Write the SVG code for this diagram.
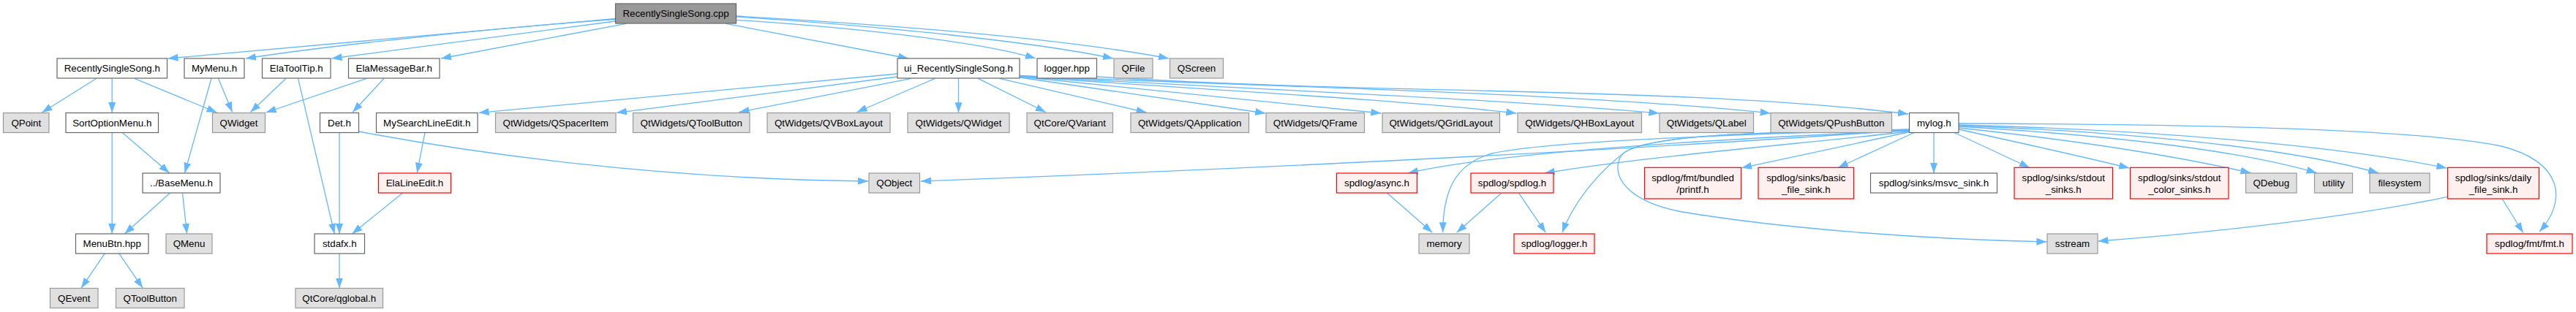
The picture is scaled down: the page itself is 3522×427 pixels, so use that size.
<svg xmlns="http://www.w3.org/2000/svg" width="3522" height="427" viewBox="0 0 3522 427">
<style>
.e{fill:none;stroke:#63b8ff;stroke-width:1.3;marker-end:url(#a)}
.nw rect{fill:#ffffff;stroke:#666666;stroke-width:1.2}
.ng rect{fill:#e0e0e0;stroke:#999999;stroke-width:1.2}
.nr rect{fill:#fff0f0;stroke:#ff0000;stroke-width:1.2}
.nroot rect{fill:#999999;stroke:#666666;stroke-width:1.2}
text{font-family:"Liberation Sans",Arial,sans-serif;font-size:13.33px;text-anchor:middle;fill:#000000}
</style>
<defs>
<marker id="a" markerUnits="userSpaceOnUse" markerWidth="16" markerHeight="12" refX="14" refY="5" orient="auto"><path d="M0,0 L14,5 L0,10 z" fill="#63b8ff"/></marker>
</defs>
<rect width="3522" height="427" fill="#ffffff"/>
<g id="edges">
<path class="e" d="M841.5,25.5 L229.5,80"/>
<path class="e" d="M841.5,26.5 C700,36 450,62 336,80"/>
<path class="e" d="M841.5,29 L453.5,80"/>
<path class="e" d="M856,32.3 L603,80"/>
<path class="e" d="M992.5,32.3 L1242,80"/>
<path class="e" d="M1006.5,27.3 C1200,40 1350,60 1416,80"/>
<path class="e" d="M1006.5,23 C1200,35 1420,58 1522,80"/>
<path class="e" d="M1006.5,22 C1200,33 1450,52 1598,80"/>
<path class="e" d="M132,107.3 L57.4,154"/>
<path class="e" d="M153.2,107.3 L153.2,154"/>
<path class="e" d="M183.7,107.3 L296.6,154"/>
<path class="e" d="M298.5,107.3 L317.6,153.5"/>
<path class="e" d="M289,107.3 L252.6,236.7"/>
<path class="e" d="M391.1,107.3 L342.5,153.5"/>
<path class="e" d="M407.6,107.3 L457.3,320"/>
<path class="e" d="M501.3,107.3 L363.6,154"/>
<path class="e" d="M525.1,107.3 L482.2,153.5"/>
<path class="e" d="M167.6,181.7 L231.5,236.7"/>
<path class="e" d="M153.2,181.7 L153.2,320"/>
<path class="e" d="M232.3,264.3 L170.3,320"/>
<path class="e" d="M249.5,264.3 L255.6,320"/>
<path class="e" d="M464,181.7 L464,320"/>
<path class="e" d="M581,181.7 L570.2,236.7"/>
<path class="e" d="M550.3,264.3 L481.4,320"/>
<path class="e" d="M143.5,346.7 L111,394.3"/>
<path class="e" d="M162.6,346.7 L195.2,394.3"/>
<path class="e" d="M464,346.7 L464,394.5"/>
<path class="e" d="M490.6,180 C650,210 900,245 1187,248"/>
<path class="e" d="M1227,101 L654.6,154.3"/>
<path class="e" d="M1227,105 L843,154.3"/>
<path class="e" d="M1246,107.3 L1010.5,153.5"/>
<path class="e" d="M1278.6,107.3 L1171.5,153.5"/>
<path class="e" d="M1310.5,107.3 L1310.5,154.3"/>
<path class="e" d="M1337.2,107.3 L1429.8,153.5"/>
<path class="e" d="M1366.7,107.3 L1567.6,154"/>
<path class="e" d="M1394.2,106 L1730.2,155"/>
<path class="e" d="M1394.2,105 L1888.3,155"/>
<path class="e" d="M1394.2,104.5 C1600,120 1900,135 2073.3,155"/>
<path class="e" d="M1394.2,104 C1700,122 2050,135 2268.4,155"/>
<path class="e" d="M1394.2,103.5 C1700,118 2150,126 2420.7,155"/>
<path class="e" d="M1499.5,105 C1900,130 2300,118 2609,156"/>
<path class="e" d="M2610.5,178 C2300,200 1800,228 1259,248"/>
<path class="e" d="M2610.5,179 C2350,190 2050,208 1925,237"/>
<path class="e" d="M2610.5,177 C2300,186 2100,196 2040,210 C1990,224 1973,260 1972.7,318.3"/>
<path class="e" d="M2610.5,180 C2450,198 2250,214 2111.7,237"/>
<path class="e" d="M2610.5,178.5 C2400,181 2262,184 2222,208 C2182,238 2150,280 2136,318.3"/>
<path class="e" d="M2610.5,177.5 C2400,181 2242,184 2217,212 C2200,240 2225,276 2300,290 C2450,315 2650,328 2798.4,331"/>
<path class="e" d="M2611,180.5 L2381,229.8"/>
<path class="e" d="M2617,181.5 L2513,229.5"/>
<path class="e" d="M2644,181.5 L2644,237"/>
<path class="e" d="M2672,181.5 L2775,229.5"/>
<path class="e" d="M2678,177 C2760,195 2850,215 2911.3,230"/>
<path class="e" d="M2678,175 C2820,190 2960,210 3077.4,236.7"/>
<path class="e" d="M2678,173 C2880,185 3060,205 3167.6,236.7"/>
<path class="e" d="M2678,172 C2900,180 3120,200 3252,236.7"/>
<path class="e" d="M2678,171 C2950,178 3200,200 3345.3,230"/>
<path class="e" d="M2678,169 C3000,170 3300,176 3420,200 C3505,222 3510,275 3472,317"/>
<path class="e" d="M1896.7,264.3 L1958.3,318.3"/>
<path class="e" d="M2052.7,264.3 L1991.7,318.3"/>
<path class="e" d="M2076.7,264.3 L2113.3,318.3"/>
<path class="e" d="M3346.5,269.3 C3200,300 3000,320 2868.5,330"/>
<path class="e" d="M3421,272 L3449.7,318.5"/>
</g>
<g id="n_cpp" class="nroot"><rect x="841.5" y="5" width="165" height="27"/><text x="924" y="23">RecentlySingleSong.cpp</text></g>
<g id="n_rsh" class="nw"><rect x="78" y="80" width="150.5" height="27"/><text x="153.25" y="98">RecentlySingleSong.h</text></g>
<g id="n_mymenu" class="nw"><rect x="252" y="80" width="82" height="27"/><text x="293" y="98">MyMenu.h</text></g>
<g id="n_elatooltip" class="nw"><rect x="358.5" y="80" width="93.5" height="27"/><text x="405.25" y="98">ElaToolTip.h</text></g>
<g id="n_elamsgbar" class="nw"><rect x="476.5" y="80" width="124.5" height="27"/><text x="538.75" y="98">ElaMessageBar.h</text></g>
<g id="n_ui" class="nw"><rect x="1227" y="80" width="167" height="27"/><text x="1310.5" y="98">ui_RecentlySingleSong.h</text></g>
<g id="n_logger" class="nw"><rect x="1418" y="80" width="81.5" height="27"/><text x="1458.75" y="98">logger.hpp</text></g>
<g id="n_qfile" class="ng"><rect x="1523" y="80" width="53" height="27"/><text x="1549.5" y="98">QFile</text></g>
<g id="n_qscreen" class="ng"><rect x="1599.5" y="80" width="73" height="27"/><text x="1636" y="98">QScreen</text></g>
<g id="n_qpoint" class="ng"><rect x="4.5" y="154.5" width="62.5" height="27"/><text x="35.75" y="172.5">QPoint</text></g>
<g id="n_sortopt" class="nw"><rect x="90" y="154.5" width="126.5" height="27"/><text x="153.25" y="172.5">SortOptionMenu.h</text></g>
<g id="n_qwidget" class="ng"><rect x="290.5" y="154.5" width="72" height="27"/><text x="326.5" y="172.5">QWidget</text></g>
<g id="n_det" class="nw"><rect x="437.5" y="154.5" width="53" height="27"/><text x="464" y="172.5">Det.h</text></g>
<g id="n_mysearch" class="nw"><rect x="514.5" y="154.5" width="138.5" height="27"/><text x="583.75" y="172.5">MySearchLineEdit.h</text></g>
<g id="n_spacer" class="ng"><rect x="677.5" y="154.5" width="164.5" height="27"/><text x="759.75" y="172.5">QtWidgets/QSpacerItem</text></g>
<g id="n_qttoolbtn" class="ng"><rect x="865.5" y="154.5" width="159.5" height="27"/><text x="945.25" y="172.5">QtWidgets/QToolButton</text></g>
<g id="n_vbox" class="ng"><rect x="1049" y="154.5" width="168" height="27"/><text x="1133" y="172.5">QtWidgets/QVBoxLayout</text></g>
<g id="n_qtwidget" class="ng"><rect x="1241" y="154.5" width="139" height="27"/><text x="1310.5" y="172.5">QtWidgets/QWidget</text></g>
<g id="n_variant" class="ng"><rect x="1404" y="154.5" width="117.5" height="27"/><text x="1462.75" y="172.5">QtCore/QVariant</text></g>
<g id="n_app" class="ng"><rect x="1546" y="154.5" width="161.5" height="27"/><text x="1626.75" y="172.5">QtWidgets/QApplication</text></g>
<g id="n_frame" class="ng"><rect x="1731" y="154.5" width="134.5" height="27"/><text x="1798.25" y="172.5">QtWidgets/QFrame</text></g>
<g id="n_grid" class="ng"><rect x="1890" y="154.5" width="160.5" height="27"/><text x="1970.25" y="172.5">QtWidgets/QGridLayout</text></g>
<g id="n_hbox" class="ng"><rect x="2075" y="154.5" width="169.5" height="27"/><text x="2159.75" y="172.5">QtWidgets/QHBoxLayout</text></g>
<g id="n_label" class="ng"><rect x="2269" y="154.5" width="128.5" height="27"/><text x="2333.25" y="172.5">QtWidgets/QLabel</text></g>
<g id="n_push" class="ng"><rect x="2421" y="154.5" width="165.5" height="27"/><text x="2503.75" y="172.5">QtWidgets/QPushButton</text></g>
<g id="n_mylog" class="nw"><rect x="2610.5" y="154.5" width="67.5" height="27"/><text x="2644.25" y="172.5">mylog.h</text></g>
<g id="n_basemenu" class="nw"><rect x="195" y="237" width="106" height="27"/><text x="248" y="255">../BaseMenu.h</text></g>
<g id="n_elalineedit" class="nr"><rect x="517.5" y="237" width="99" height="27"/><text x="567" y="255">ElaLineEdit.h</text></g>
<g id="n_qobject" class="ng"><rect x="1188" y="237" width="69.5" height="27"/><text x="1222.75" y="255">QObject</text></g>
<g id="n_async" class="nr"><rect x="1827.5" y="237" width="110" height="27"/><text x="1882.5" y="255">spdlog/async.h</text></g>
<g id="n_spdlogh" class="nr"><rect x="2011" y="237" width="113" height="27"/><text x="2067.5" y="255">spdlog/spdlog.h</text></g>
<g id="n_printf" class="nr"><rect x="2248.5" y="229.3" width="132" height="42.7"/><text x="2314.5" y="247.5">spdlog/fmt/bundled</text><text x="2314.5" y="263.5">/printf.h</text></g>
<g id="n_basic" class="nr"><rect x="2404" y="229.3" width="130.5" height="42.7"/><text x="2469.25" y="247.5">spdlog/sinks/basic</text><text x="2469.25" y="263.5">_file_sink.h</text></g>
<g id="n_msvc" class="nw"><rect x="2557.5" y="237" width="173" height="27"/><text x="2644" y="255">spdlog/sinks/msvc_sink.h</text></g>
<g id="n_stdout" class="nr"><rect x="2754" y="229.3" width="134.5" height="42.7"/><text x="2821.25" y="247.5">spdlog/sinks/stdout</text><text x="2821.25" y="263.5">_sinks.h</text></g>
<g id="n_stdoutcolor" class="nr"><rect x="2912.5" y="229.3" width="134.5" height="42.7"/><text x="2979.75" y="247.5">spdlog/sinks/stdout</text><text x="2979.75" y="263.5">_color_sinks.h</text></g>
<g id="n_qdebug" class="ng"><rect x="3070.5" y="237" width="69.5" height="27"/><text x="3105.25" y="255">QDebug</text></g>
<g id="n_utility" class="ng"><rect x="3164.5" y="237" width="52" height="27"/><text x="3190.5" y="255">utility</text></g>
<g id="n_filesystem" class="ng"><rect x="3240" y="237" width="82" height="27"/><text x="3281" y="255">filesystem</text></g>
<g id="n_daily" class="nr"><rect x="3346.5" y="229.3" width="125" height="42.7"/><text x="3409" y="247.5">spdlog/sinks/daily</text><text x="3409" y="263.5">_file_sink.h</text></g>
<g id="n_menubtn" class="nw"><rect x="103.5" y="320" width="99.5" height="27"/><text x="153.25" y="338">MenuBtn.hpp</text></g>
<g id="n_qmenu" class="ng"><rect x="227" y="320" width="63" height="27"/><text x="258.5" y="338">QMenu</text></g>
<g id="n_stdafx" class="nw"><rect x="430" y="320" width="68.5" height="27"/><text x="464.25" y="338">stdafx.h</text></g>
<g id="n_memory" class="ng"><rect x="1940" y="320" width="69" height="27"/><text x="1974.5" y="338">memory</text></g>
<g id="n_loggerh" class="nr"><rect x="2070" y="320" width="110" height="27"/><text x="2125" y="338">spdlog/logger.h</text></g>
<g id="n_sstream" class="ng"><rect x="2799" y="320" width="69" height="27"/><text x="2833.5" y="338">sstream</text></g>
<g id="n_fmt" class="nr"><rect x="3400" y="320" width="117" height="27"/><text x="3458.5" y="338">spdlog/fmt/fmt.h</text></g>
<g id="n_qevent" class="ng"><rect x="68.5" y="394.5" width="65.5" height="27"/><text x="101.25" y="412.5">QEvent</text></g>
<g id="n_qtoolbutton" class="ng"><rect x="158.5" y="394.5" width="93.5" height="27"/><text x="205.25" y="412.5">QToolButton</text></g>
<g id="n_qglobal" class="ng"><rect x="404" y="394.5" width="119.5" height="27"/><text x="463.75" y="412.5">QtCore/qglobal.h</text></g>
</svg>
